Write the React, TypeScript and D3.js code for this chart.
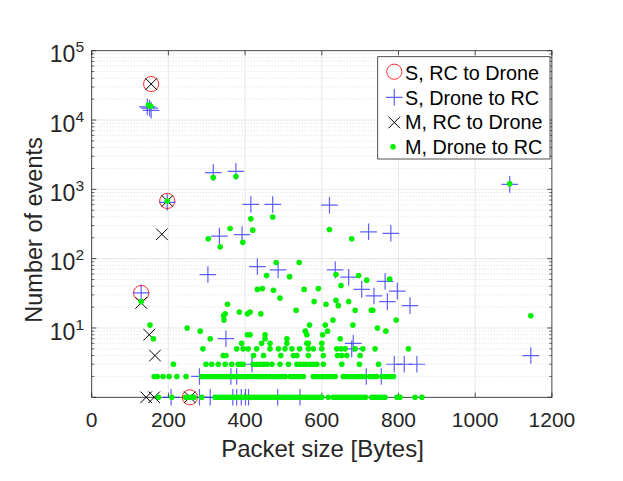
import React from "react";
import * as d3 from "d3";

// ---------- data (packet size [Bytes], number of events) ----------
const xTicks = [0, 200, 400, 600, 800, 1000, 1200];
const yDecades = [1e1, 1e2, 1e3, 1e4, 1e5];
const legendLabels = ["S, RC to Drone", "S, Drone to RC", "M, RC to Drone", "M, Drone to RC"];

const sRcToDrone: [number, number][] = [
  [155, 33000], [197, 680], [129, 32], [256, 1],
];

const sDroneToRc: [number, number][] = [
  [145, 15500], [151, 14800], [155, 13800], [197, 650],
  [317, 1740], [376, 1820], [415, 605], [472, 605], [620, 590],
  [722, 244], [780, 232], [333, 212], [392, 222],
  [129, 32], [303, 59], [432, 77], [486, 69],
  [635, 69], [670, 54], [704, 36], [765, 47], [736, 29], [797, 34], [771, 24], [830, 21],
  [350, 7], [682, 6], [678, 5],
  [789, 3], [815, 3], [848, 3], [418, 3],
  [716, 2], [755, 2], [281, 2], [363, 2], [378, 2],
  [207, 1], [281, 1], [309, 1], [368, 1], [378, 1], [390, 1], [401, 1], [409, 1], [485, 1], [543, 1],
  [1090, 1180], [1145, 4],
];

const mRcToDrone: [number, number][] = [
  [155, 33000], [197, 680], [183, 225], [129, 23], [150, 8], [165, 4],
  [142, 1], [163, 1], [256, 1],
];

const mHigh: [number, number][] = [
  [148, 16500], [154, 15800], [197, 680], [317, 1480], [376, 1530], [415, 375], [472, 400],
  [1090, 1200], [1145, 15], [620, 264], [678, 193],
  [361, 272], [304, 193], [335, 148], [420, 258], [394, 172],
  [481, 88], [541, 88], [456, 57], [516, 55], [637, 59], [696, 57], [717, 49], [777, 51],
  [432, 36], [445, 37], [474, 35], [491, 27], [554, 36], [591, 37], [650, 41],
  [354, 22], [344, 15], [348, 16], [345, 13], [385, 17], [406, 16], [413, 17], [441, 16], [533, 18],
  [580, 24], [637, 25], [611, 22], [643, 21], [670, 24], [687, 18], [729, 18], [733, 18],
  [794, 13], [629, 13], [568, 11], [609, 11], [681, 11], [745, 10], [767, 9], [615, 9],
  [602, 8], [648, 7], [129, 24], [152, 11], [161, 7], [249, 10], [283, 9], [309, 7],
  [406, 8], [413, 8], [452, 8], [452, 7], [557, 9], [561, 8], [509, 7],
  [391, 6], [443, 6], [465, 6], [509, 6], [561, 6], [565, 6], [600, 6],
];
const mCount5 = [290, 378, 395, 408, 430, 465, 487, 504, 522, 542, 565, 578, 600, 639, 650, 661, 687, 707, 739, 826];
const mCount4 = [343, 350, 422, 448, 493, 526, 535, 565, 604, 641, 652, 665, 700];
const mCount3 = [213, 298, 313, 330, 348, 365, 382, 389, 395, 421, 430, 439, 448, 457, 470, 491, 513, 535, 543, 552, 560, 570, 579, 587, 604, 652, 698, 748];
const mCount2 = [163, 171, 186, 202, 222, 246, 287, 295, 303, 311, 319, 327, 335, 343, 351, 359, 367, 375, 383, 391, 399, 407, 415, 423, 431, 439, 447, 455, 465, 474, 482, 490, 498, 505, 518, 526, 534, 542, 552, 578, 586, 594, 602, 610, 618, 626, 635, 656, 664, 672, 680, 688, 696, 704, 713, 726, 735, 743, 757, 765, 772, 780, 787];
const mCount1 = [174, 209, 245, 252, 260, 267, 287, 322, 329, 336, 343, 350, 357, 364, 371, 378, 385, 392, 399, 406, 413, 420, 427, 434, 441, 448, 455, 462, 469, 476, 483, 490, 497, 504, 511, 518, 525, 532, 539, 546, 553, 560, 567, 574, 581, 588, 595, 600, 617, 630, 637, 644, 651, 658, 665, 672, 679, 686, 693, 700, 707, 714, 730, 737, 744, 751, 758, 765, 796, 804, 843, 861];

const W = 623;
const H = 481;
const L = 91.7, R = 551.9, T = 50.7, B = 397.3;
const FONT = "'Liberation Sans', Arial, Helvetica, sans-serif";
const AX = "#262626";

const x = d3.scaleLinear().domain([0, 1200]).range([L, R]);
const y = d3.scaleLog().domain([1, 1e5]).range([B, T]);

const mDroneToRc: [number, number][] = [
  ...mHigh,
  ...mCount5.map((s) => [s, 5] as [number, number]),
  ...mCount4.map((s) => [s, 4] as [number, number]),
  ...mCount3.map((s) => [s, 3] as [number, number]),
  ...mCount2.map((s) => [s, 2] as [number, number]),
  ...mCount1.map((s) => [s, 1] as [number, number]),
];

const plusPath = "M-8.3,0H8.3M0,-8.3V8.3";
const crossPath = "M-5.8,-5.8L5.8,5.8M-5.8,5.8L5.8,-5.8";
const BLUE = "#2b2bff";
const RED = "#ff1a1a";
const GREEN = "#00f000";

function Circle({ cx, cy }: { cx: number; cy: number }) {
  return <circle cx={cx} cy={cy} r={7.6} fill="none" stroke={RED} strokeWidth={1} opacity={0.9} />;
}
function Plus({ cx, cy }: { cx: number; cy: number }) {
  return <path d={plusPath} transform={`translate(${cx},${cy})`} stroke={BLUE} strokeWidth={1.2} opacity={0.75} fill="none" />;
}
function Cross({ cx, cy }: { cx: number; cy: number }) {
  return <path d={crossPath} transform={`translate(${cx},${cy})`} stroke="#000" strokeWidth={1} fill="none" />;
}
function Dot({ cx, cy }: { cx: number; cy: number }) {
  return <circle cx={cx} cy={cy} r={2.8} fill={GREEN} />;
}

export default function App() {
  const minorY = y.ticks().filter((v) => !yDecades.includes(v) && v > 1 && v < 1e5);
  const majorY = [1, ...yDecades];
  return (
    <svg width={W} height={H} style={{ position: "fixed", left: 0, top: 0, background: "#fff" }} fontFamily={FONT}>
      <rect x={0} y={0} width={W} height={H} fill="#fff" />
      {/* grid */}
      {minorY.map((v) => (
        <line key={"mg" + v} x1={L} x2={R} y1={y(v)} y2={y(v)} stroke="#c8c8c8" strokeWidth={0.6} strokeDasharray="1,2" />
      ))}
      {majorY.map((v) => (
        <line key={"Mg" + v} x1={L} x2={R} y1={y(v)} y2={y(v)} stroke="#e2e2e2" strokeWidth={0.8} />
      ))}
      {xTicks.map((v) => (
        <line key={"xg" + v} x1={x(v)} x2={x(v)} y1={T} y2={B} stroke="#e2e2e2" strokeWidth={0.8} />
      ))}

      {/* axes box & ticks */}
      <rect x={L} y={T} width={R - L} height={B - T} fill="none" stroke={AX} strokeWidth={0.8} />
      {xTicks.map((v) => (
        <g key={"xt" + v}>
          <line x1={x(v)} x2={x(v)} y1={B} y2={B - 4.6} stroke={AX} strokeWidth={0.8} />
          <line x1={x(v)} x2={x(v)} y1={T} y2={T + 4.6} stroke={AX} strokeWidth={0.8} />
          <text x={x(v)} y={427} textAnchor="middle" fontSize={21} fill={AX}>{v}</text>
        </g>
      ))}
      {majorY.map((v) => (
        <g key={"yt" + v}>
          <line x1={L} x2={L + 4.6} y1={y(v)} y2={y(v)} stroke={AX} strokeWidth={0.8} />
          <line x1={R} x2={R - 4.6} y1={y(v)} y2={y(v)} stroke={AX} strokeWidth={0.8} />
        </g>
      ))}
      {minorY.map((v) => (
        <g key={"ymt" + v}>
          <line x1={L} x2={L + 2.6} y1={y(v)} y2={y(v)} stroke={AX} strokeWidth={0.7} />
          <line x1={R} x2={R - 2.6} y1={y(v)} y2={y(v)} stroke={AX} strokeWidth={0.7} />
        </g>
      ))}
      {yDecades.map((v) => (
        <text key={"yl" + v} x={84} y={y(v) + 11.7} textAnchor="end" fontSize={23} fill={AX}>
          10
          <tspan fontSize={15.5} dy={-10}>{Math.round(Math.log10(v))}</tspan>
        </text>
      ))}

      {/* axis labels */}
      <text x={322.5} y={457} textAnchor="middle" fontSize={24} fill={AX}>Packet size [Bytes]</text>
      <text transform={`translate(42,230) rotate(-90)`} textAnchor="middle" fontSize={23.5} fill={AX}>Number of events</text>

      {/* series */}
      <g>{sRcToDrone.map(([s, c], i) => <Circle key={"c" + i} cx={x(s)} cy={y(c)} />)}</g>
      <g>{sDroneToRc.map(([s, c], i) => <Plus key={"p" + i} cx={x(s)} cy={y(c)} />)}</g>
      <g>{mRcToDrone.map(([s, c], i) => <Cross key={"x" + i} cx={x(s)} cy={y(c)} />)}</g>
      <g>{mDroneToRc.map(([s, c], i) => <Dot key={"d" + i} cx={x(s)} cy={y(c)} />)}</g>

      {/* legend */}
      <g>
        <rect x={377.7} y={56.7} width={172.3} height={102.3} fill="#fff" stroke={AX} strokeWidth={0.8} />
        <Circle cx={394.3} cy={71.7} />
        <Plus cx={394.3} cy={97.3} />
        <Cross cx={394.3} cy={122.5} />
        <Dot cx={393} cy={146.7} />
        {legendLabels.map((t, i) => (
          <text key={t} x={405} y={80 + i * 24.7} fontSize={19.8} fill="#000">{t}</text>
        ))}
      </g>
    </svg>
  );
}
